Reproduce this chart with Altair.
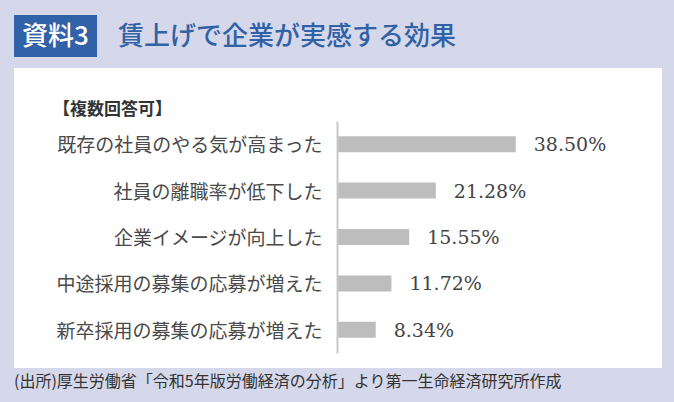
import altair as alt
import pandas as pd

# ---- data ----
categories = [
    "既存の社員のやる気が高まった",
    "社員の離職率が低下した",
    "企業イメージが向上した",
    "中途採用の募集の応募が増えた",
    "新卒採用の募集の応募が増えた",
]
values = [38.50, 21.28, 15.55, 11.72, 8.34]

badge_text = ["資料3"]
title_text = ["賃上げで企業が実感する効果"]
note_text = ["【複数回答可】"]
source_text = ["(出所)厚生労働省「令和5年版労働経済の分析」より第一生命経済研究所作成"]

df = pd.DataFrame({"cat": categories, "v": values})

JP = "Noto Sans CJK JP"
BG = "#d5d8ea"
BLUE = "#3161a6"

one = pd.DataFrame({"k": [0]})

panel = alt.Chart(one).mark_rect(color="white").encode(
    x=alt.value(-323), x2=alt.value(325), y=alt.value(-53), y2=alt.value(247)
)
badge = alt.Chart(one).mark_rect(color=BLUE).encode(
    x=alt.value(-323), x2=alt.value(-240), y=alt.value(-106), y2=alt.value(-64)
)
badge_t = alt.Chart(pd.DataFrame({"t": badge_text})).mark_text(
    font=JP, fontSize=26, fontWeight=500, color="white", align="center", baseline="middle"
).encode(x=alt.value(-281.5), y=alt.value(-84), text="t:N")
title_t = alt.Chart(pd.DataFrame({"t": title_text})).mark_text(
    font=JP, fontSize=26, fontWeight=500, color=BLUE, align="left", baseline="middle"
).encode(x=alt.value(-219), y=alt.value(-84), text="t:N")
note_t = alt.Chart(pd.DataFrame({"t": note_text})).mark_text(
    font=JP, fontSize=17, fontWeight="bold", color="#333333", align="left", baseline="middle"
).encode(x=alt.value(-284), y=alt.value(-11.5), text="t:N")
source_t = alt.Chart(pd.DataFrame({"t": source_text})).mark_text(
    font=JP, fontSize=16, color="#333333", align="left", baseline="middle"
).encode(x=alt.value(-323), y=alt.value(261), text="t:N")

base = alt.Chart(df).encode(
    y=alt.Y(
        "cat:N",
        sort=categories,
        title=None,
        axis=alt.Axis(
            ticks=False,
            grid=False,
            domainColor="#c8c8c8",
            domainWidth=2,
            labelFont=JP,
            labelFontSize=19,
            labelColor="#4a4a4a",
            labelPadding=15,
            labelLimit=400,
            labelOffset=2,
            zindex=1,
        ),
    ),
    x=alt.X("v:Q", scale=alt.Scale(domain=[0, 70]), axis=None),
)

bars = base.mark_bar(color="#bdbdbd", size=16)
labels = base.transform_calculate(
    lab="format(datum.v, '.2f') + '%'"
).mark_text(
    font="DejaVu Serif", fontSize=19, color="#444444", align="left", baseline="middle", dx=18, dy=1
).encode(text="lab:N")

chart = alt.layer(panel, badge, badge_t, title_t, note_t, source_t, bars, labels).properties(
    width=325,
    height=232,
    autosize=alt.AutoSizeParams(type="none"),
    padding={"left": 337, "top": 121, "right": 12, "bottom": 49},
    background=BG,
).configure_view(stroke=None)

chart.save("out.html", embed_options={"renderer": "svg", "actions": False})
